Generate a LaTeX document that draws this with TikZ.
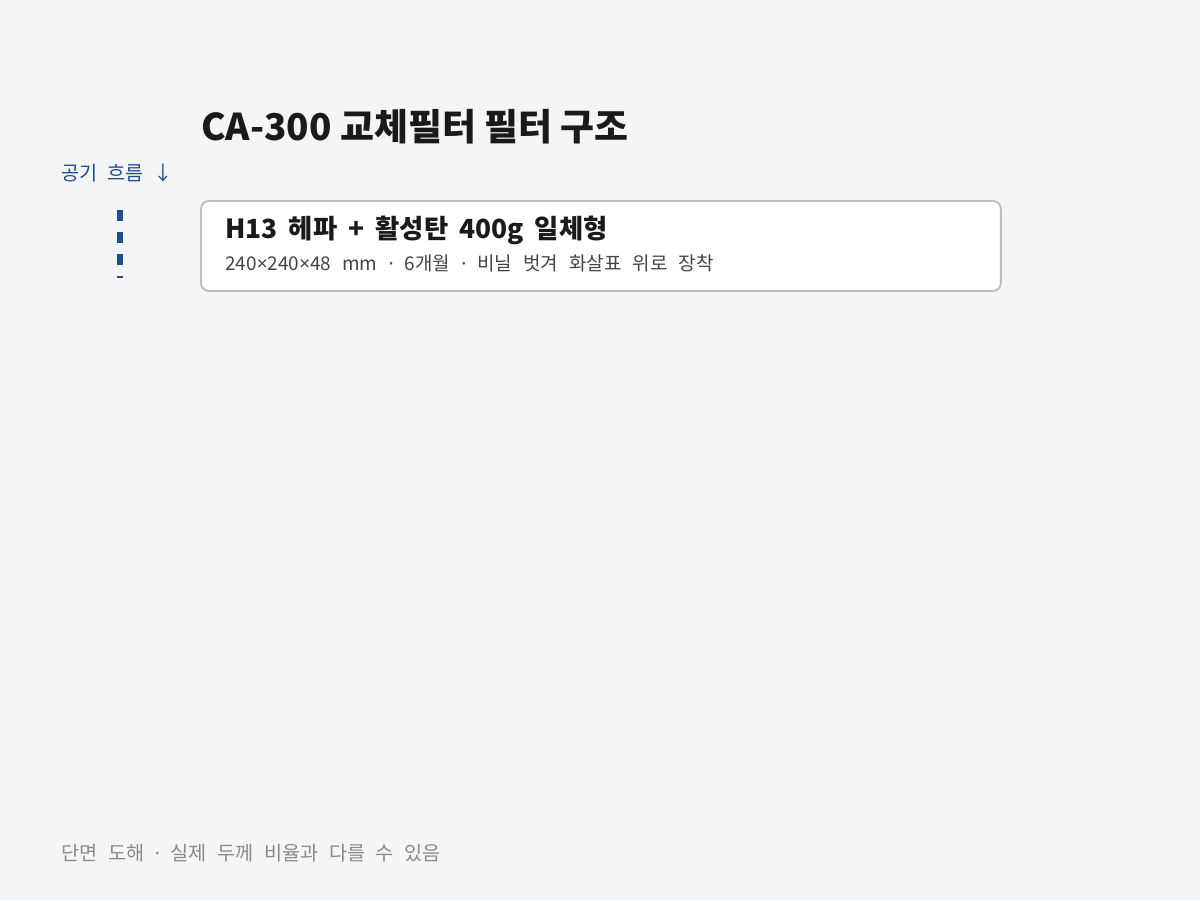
\documentclass[tikz,border=0pt]{standalone}
\usepackage{fontspec}
\setmainfont{Noto Sans CJK KR}
\newfontfamily\latinfont{Noto Sans}
\usepackage{tikz}
\usetikzlibrary{positioning}
\definecolor{pagebg}{HTML}{F4F5F7}
\definecolor{titleink}{HTML}{1A1A1A}
\definecolor{subink}{HTML}{444444}
\definecolor{noteink}{HTML}{8A8A8A}
\definecolor{flowblue}{HTML}{1F4E8C}
\definecolor{boxline}{HTML}{BDBDBD}
\newcommand{\mdot}{{\latinfont ·}}
\newcommand{\mtimes}{{\latinfont ×}}

\begin{document}
\begin{tikzpicture}[x=0.02cm,y=-0.02cm,
  txt/.style={anchor=base west,inner sep=0pt},
  layerbox/.style={draw=boxline,line width=1.1pt,fill=white,rounded corners=4.5pt,
    minimum width=16cm,minimum height=1.8cm,inner sep=0pt,anchor=north west},
  flowline/.style={draw=flowblue,line width=3pt,dash pattern=on 6.3pt off 6.3pt}]
% page
\fill[pagebg] (0,0) rectangle (1200,900);
\useasboundingbox (0,0) rectangle (1200,900);

% title
\node[txt,font=\bfseries\fontsize{21}{25}\selectfont,text=titleink] (title) at (201,140) {CA-300 교체필터 필터 구조};

% air flow
\node[txt,font={\fontsize{11.2}{13}\selectfont\spaceskip=5.6pt\relax},text=flowblue] (flow) at (61,180) {공기 흐름 ↓};
\coordinate (flowtop) at (120,210);
\coordinate (flowend) at (120,278);
\draw[flowline] (flowtop) -- (flowend);

% filter layer
\node[layerbox] (layer) at (200,200) {};
\node[txt,font={\bfseries\fontsize{15}{18}\selectfont\spaceskip=6.3pt\relax},text=titleink] (layername) at (225,238) {H13 헤파 + 활성탄 400g 일체형};
\node[txt,font={\fontsize{10.8}{13}\selectfont\spaceskip=6.3pt\relax},text=subink] (layerinfo) at (225,270) {240\mtimes240\mtimes48 mm \mdot{} 6개월 \mdot{} 비닐 벗겨 화살표 위로 장착};

% note
\node[txt,font={\fontsize{11.2}{13}\selectfont\spaceskip=6pt\relax},text=noteink] (note) at (61,860) {단면 도해 \mdot{} 실제 두께 비율과 다를 수 있음};
\end{tikzpicture}
\end{document}
